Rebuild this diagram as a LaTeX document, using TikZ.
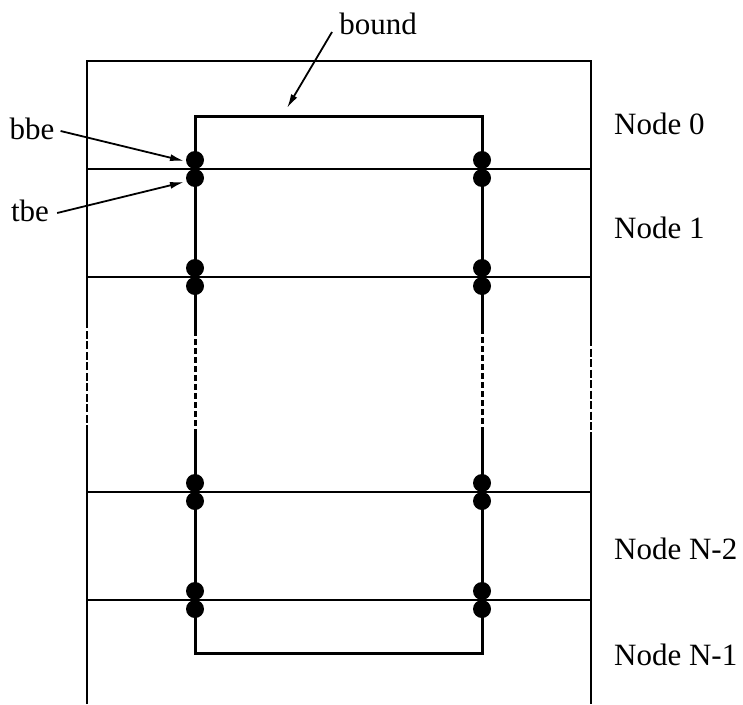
\documentclass[tikz,border=0pt]{standalone}
\usepackage{fontspec}
\setmainfont{Liberation Serif}
\usetikzlibrary{arrows.meta}
\begin{document}
\begin{tikzpicture}[x=1pt,y=-1pt,
  frameline/.style={line width=2pt},
  ringline/.style={line width=3pt},
  framedash/.style={frameline,dash pattern=on 8pt off 2.5pt},
  ringdash/.style={ringline,dash pattern=on 6pt off 3pt},
  edgedot/.style={circle,fill=black,inner sep=0pt,minimum size=18pt},
  lbl/.style={font=\fontsize{31}{37}\selectfont,inner sep=0pt},
  pointer/.style={line width=1.8pt,-{Latex[length=14pt,width=7pt]}}]
\useasboundingbox (0,0) rectangle (743,704);
% outer frame (open at the bottom)
\coordinate (fl0) at (87,704);  \coordinate (fl1) at (87,433);
\coordinate (fl2) at (87,325);  \coordinate (fl3) at (87,61);
\coordinate (fr0) at (591,704); \coordinate (fr1) at (591,432);
\coordinate (fr2) at (591,338); \coordinate (fr3) at (591,61);
\draw[frameline] (fl0) -- (fl1);
\draw[framedash] (fl1) -- (fl2);
\draw[frameline] (fl2) -- (fl3) -- (fr3) -- (fr2);
\draw[framedash] (fr2) -- (fr1);
\draw[frameline] (fr1) -- (fr0);
% node boundaries
\foreach \y/\n in {169/a,277/b,492/c,600/d}{
  \coordinate (h\n l) at (87,\y); \coordinate (h\n r) at (591,\y);
  \draw[frameline] (h\n l) -- (h\n r);
}
% bound ring
\coordinate (rtl) at (195,116); \coordinate (rtr) at (482,116);
\coordinate (rbl) at (195,653); \coordinate (rbr) at (482,653);
\coordinate (rl1) at (195,330); \coordinate (rl2) at (195,433);
\coordinate (rr1) at (482,328); \coordinate (rr2) at (482,432);
\draw[ringline] (rl1) -- (rtl) -- (rtr) -- (rr1);
\draw[ringdash] (rl1) -- (rl2);
\draw[ringdash] (rr1) -- (rr2);
\draw[ringline] (rl2) -- (rbl) -- (rbr) -- (rr2);
% boundary elements
\foreach \y/\n in {169/a,277/b,492/c,600/d}{
  \node[edgedot] (\n lu) at (195,\y-9) {};
  \node[edgedot] (\n ld) at (195,\y+9) {};
  \node[edgedot] (\n ru) at (482,\y-9) {};
  \node[edgedot] (\n rd) at (482,\y+9) {};
}
% labels
\node[lbl] (bound) at (378,24) {bound};
\node[lbl] (bbe) at (32,129) {bbe};
\node[lbl] (tbe) at (30,211) {tbe};
\node[lbl,anchor=west] (n0) at (614,124) {Node 0};
\node[lbl,anchor=west] (n1) at (614,228) {Node 1};
\node[lbl,anchor=west] (n2) at (614,549) {Node N-2};
\node[lbl,anchor=west] (n3) at (614,655) {Node N-1};
% pointers
\coordinate (pb) at (287,108);
\coordinate (pbbe) at (184,161);
\coordinate (ptbe) at (184,182);
\draw[pointer] (332,32) -- (pb);
\draw[pointer] (bbe.east) ++(6,2) -- (pbbe);
\draw[pointer] (tbe.east) ++(8,2) -- (ptbe);
\end{tikzpicture}
\end{document}
